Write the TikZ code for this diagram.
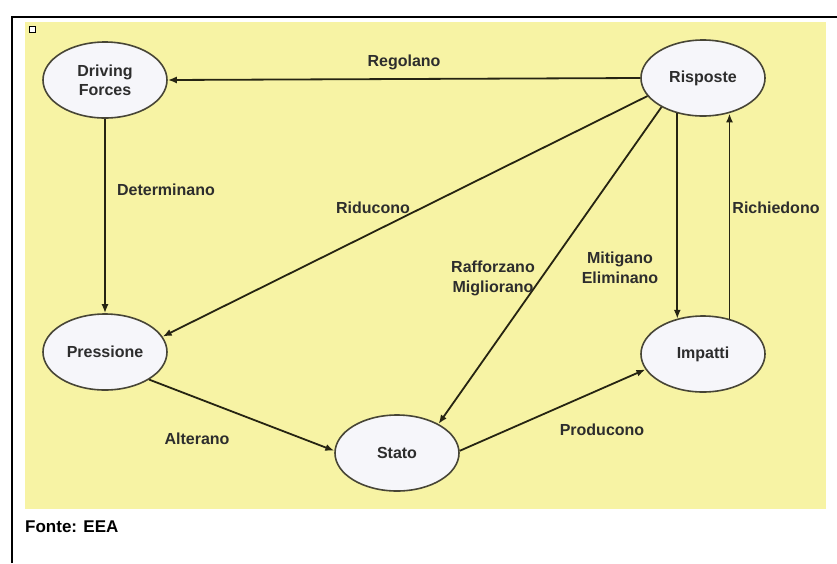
\documentclass[tikz,border=0pt]{standalone}
\usepackage{fontspec}
\setmainfont{Liberation Sans}
\usetikzlibrary{arrows.meta,shapes.geometric}
\definecolor{sfondo}{RGB}{247,243,164}
\definecolor{linea}{RGB}{38,36,18}
\definecolor{testo}{RGB}{45,45,45}
\definecolor{ovale}{RGB}{246,246,250}
\tikzset{
  fase/.style={ellipse,draw=linea!85,line width=1.6pt,fill=ovale,minimum width=124pt,minimum height=76pt,
    inner sep=0pt,align=center,text=testo,font=\bfseries\fontsize{16}{19}\selectfont},
  freccia/.style={-{Latex[length=9pt,width=7pt]},line width=1.8pt,draw=linea},
  etichetta/.style={align=center,inner sep=0pt,text=testo,font=\bfseries\fontsize{16}{20}\selectfont}
}
\begin{document}
\begin{tikzpicture}[x=1pt,y=-1pt]
\useasboundingbox (0,0) rectangle (837,563);
\fill[sfondo] (25,22) rectangle (826,509);
\draw[line width=1.8pt] (12,563) -- (12,17) -- (837,17);
\draw[line width=1pt,fill=white] (29,26) rectangle (35,32);
\node[fase] (df) at (105,80) {Driving\\Forces};
\node[fase] (risp) at (703,78) {Risposte};
\node[fase] (pres) at (105,352) {Pressione};
\node[fase] (stato) at (397,453) {Stato};
\node[fase] (imp) at (703,354) {Impatti};
\draw[freccia] (risp.west) -- (df.east);
\draw[freccia] (df.south) -- (pres.north);
\draw[freccia] (risp.198) -- (pres.15);
\draw[freccia] (risp.215) -- (stato.35);
\draw[freccia] (risp.234) -- (risp.234 |- imp.127);
\draw[freccia] (imp.53) -- (imp.53 |- risp.306);
\draw[freccia] (pres.328) -- (stato.178);
\draw[freccia] (stato.2) -- (imp.195);
\node[etichetta] (regolano) at (404,62) {Regolano};
\node[etichetta] (determinano) at (166,190) {Determinano};
\node[etichetta] (riducono) at (373,208) {Riducono};
\node[etichetta] (rafforzano) at (493,278) {Rafforzano\\Migliorano};
\node[etichetta] (mitigano) at (620,268) {Mitigano\\Eliminano};
\node[etichetta] (richiedono) at (776,208) {Richiedono};
\node[etichetta] (alterano) at (197,439) {Alterano};
\node[etichetta] (producono) at (602,430) {Producono};
\node[etichetta,anchor=west,font=\bfseries\fontsize{17}{20}\selectfont,text=black] (fonte) at (25,527) {Fonte: EEA};
\end{tikzpicture}
\end{document}
